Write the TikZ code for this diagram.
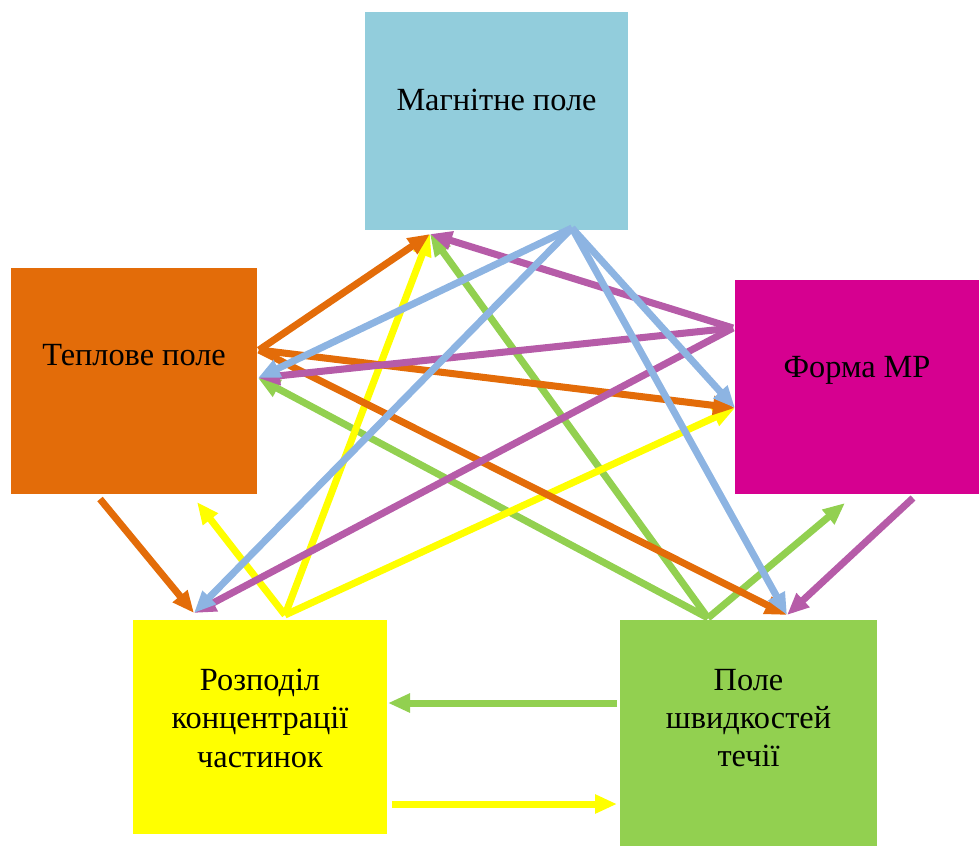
\documentclass[tikz,border=0pt]{standalone}
\usepackage{fontspec}
\setmainfont{Liberation Serif}
\usetikzlibrary{arrows.meta}

\definecolor{magblue}{RGB}{146,205,220}
\definecolor{heatorange}{RGB}{227,108,9}
\definecolor{formpink}{RGB}{214,0,144}
\definecolor{conyellow}{RGB}{255,255,0}
\definecolor{flowgreen}{RGB}{146,208,80}
\definecolor{arrblue}{RGB}{141,180,226}
\definecolor{arrpink}{RGB}{182,92,168}

\tikzset{
	box/.style={rectangle, draw=none, inner sep=0pt, align=center, font=\fontsize{18.4}{21.8}\selectfont},
	con/.style={line width=4pt, -{Triangle[length=4.4mm,width=3.6mm]}},
}

\begin{document}
\begin{tikzpicture}[x=0.02cm, y=-0.02cm]
	\useasboundingbox (0,0) rectangle (979,846);

	\node[box, fill=magblue, minimum width=5.26cm, minimum height=4.36cm, text depth=0.84cm] (mag) at (496.5,121) {Магнітне поле};
	\node[box, fill=heatorange, minimum width=4.92cm, minimum height=4.52cm, text depth=1.04cm] (tep) at (134,381) {Теплове поле};
	\node[box, fill=formpink, minimum width=4.88cm, minimum height=4.28cm, text depth=0.8cm] (form) at (857,387) {Форма МР};
	\node[box, fill=conyellow, minimum width=5.08cm, minimum height=4.28cm, text depth=0.36cm] (roz) at (260,727) {Розподіл\\концентрації\\частинок};
	\node[box, fill=flowgreen, minimum width=5.14cm, minimum height=4.52cm, text depth=0.6cm] (pol) at (748.5,733) {Поле\\швидкостей\\течії};

	\coordinate (mag-in) at (430,234);
	\coordinate (mag-out) at (572,228);
	\coordinate (tep-out) at (259,350);
	\coordinate (tep-in) at (258,378);
	\coordinate (tep-bot) at (100,499);
	\coordinate (tep-bin) at (197,502);
	\coordinate (form-out) at (733,328);
	\coordinate (form-in) at (735,408);
	\coordinate (form-bot) at (913,498);
	\coordinate (form-bin) at (845,503);
	\coordinate (roz-in) at (194,613);
	\coordinate (roz-out) at (285,615);
	\coordinate (pol-out) at (708,618);
	\coordinate (pol-in) at (787,615);
	\coordinate (pol-l1) at (617,703);
	\coordinate (roz-r1) at (388,703);
	\coordinate (roz-r2) at (392,804);
	\coordinate (pol-l2) at (617,804);

	\draw[con, flowgreen] (pol-out) -- (mag-in);
	\draw[con, flowgreen] (pol-out) -- (tep-in);
	\draw[con, flowgreen] (pol-out) -- (form-bin);
	\draw[con, flowgreen] (pol-l1) -- (roz-r1);

	\draw[con, conyellow] (roz-out) -- (mag-in);
	\draw[con, conyellow] (roz-out) -- (form-in);
	\draw[con, conyellow] (roz-out) -- (tep-bin);
	\draw[con, conyellow] (roz-r2) -- (pol-l2);

	\draw[con, heatorange] (tep-out) -- (mag-in);
	\draw[con, heatorange] (tep-out) -- (form-in);
	\draw[con, heatorange] (tep-out) -- (pol-in);
	\draw[con, heatorange] (tep-bot) -- (roz-in);

	\draw[con, arrpink] (form-out) -- (mag-in);
	\draw[con, arrpink] (form-out) -- (tep-in);
	\draw[con, arrpink] (form-out) -- (roz-in);
	\draw[con, arrpink] (form-bot) -- (pol-in);

	\draw[con, arrblue] (mag-out) -- (tep-in);
	\draw[con, arrblue] (mag-out) -- (roz-in);
	\draw[con, arrblue] (mag-out) -- (form-in);
	\draw[con, arrblue] (mag-out) -- (pol-in);
\end{tikzpicture}
\end{document}
